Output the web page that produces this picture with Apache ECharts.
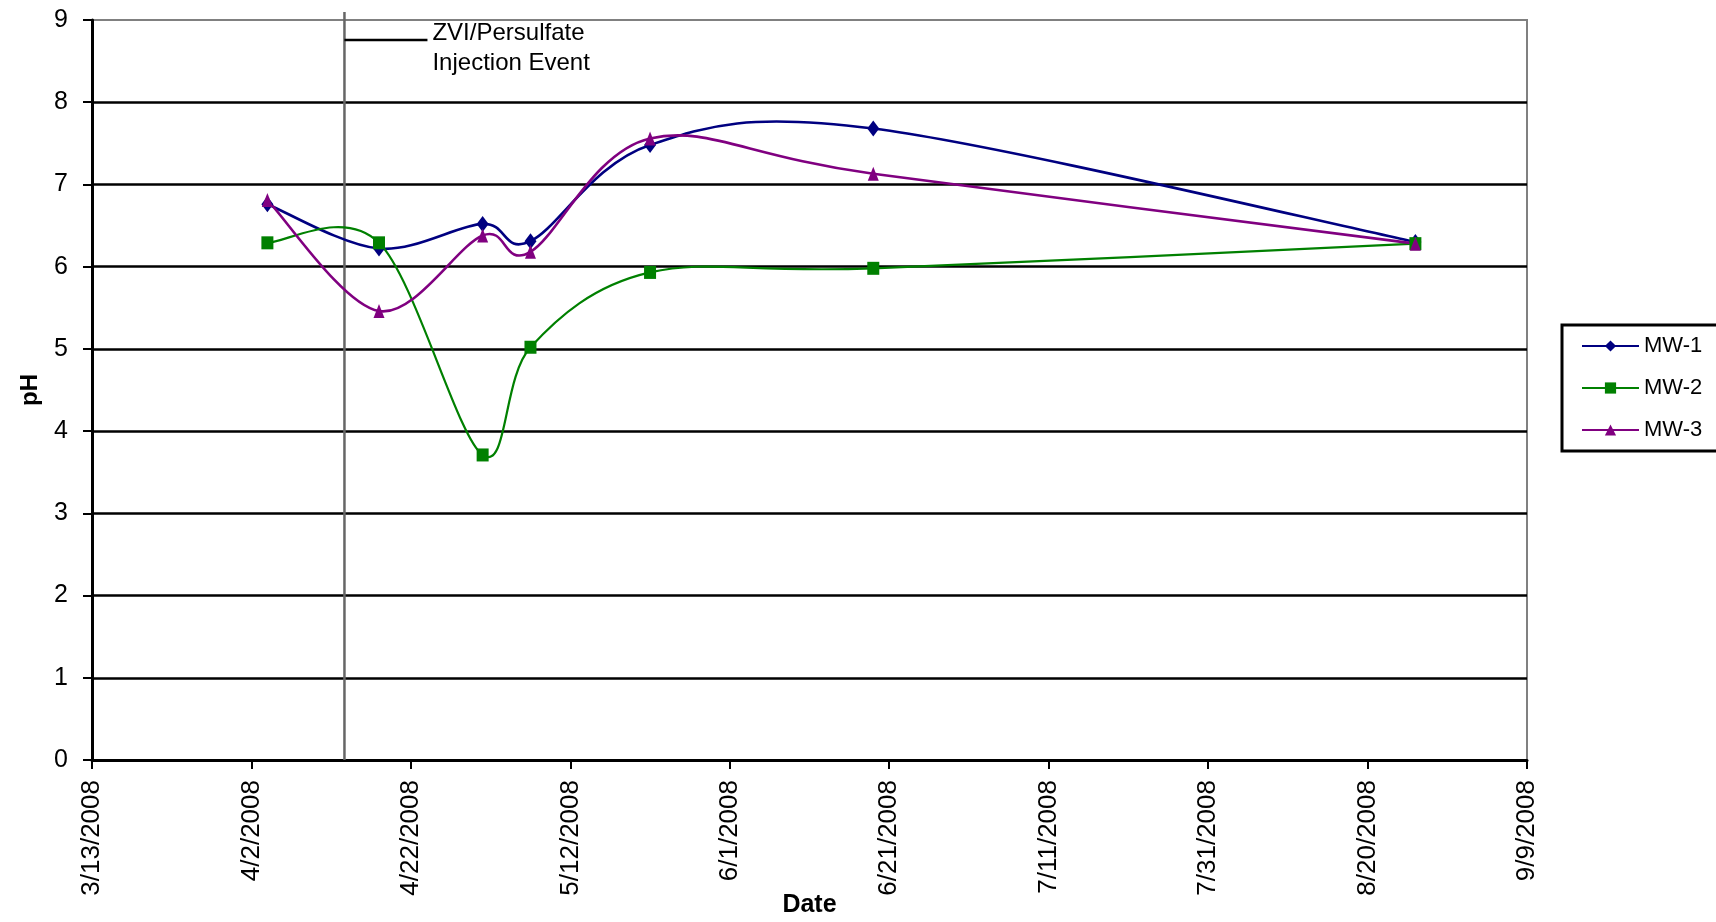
<!DOCTYPE html>
<html>
<head>
<meta charset="utf-8">
<title>pH</title>
<script src="https://cdn.jsdelivr.net/npm/echarts@6/dist/echarts.min.js"></script>
<style>
  html, body { margin: 0; padding: 0; background: #fff; }
  #chart { width: 1716px; height: 922px; }
</style>
</head>
<body>
<div id="chart"></div>
<script>
// Sampling dates and pH readings per monitoring well
const sampleDates = ['2008-04-04', '2008-04-18', '2008-05-01', '2008-05-07', '2008-05-22', '2008-06-19', '2008-08-26'];
const mw1 = [6.76, 6.22, 6.52, 6.31, 7.48, 7.68, 6.30];
const mw2 = [6.29, 6.29, 3.71, 5.02, 5.93, 5.98, 6.28];
const mw3 = [6.81, 5.46, 6.38, 6.18, 7.56, 7.13, 6.28];
const seriesNames = ['MW-1', 'MW-2', 'MW-3'];

// Date axis: 3/13/2008 to 9/9/2008, labelled every 20 days
const axisStart = '2008-03-13';
const axisSpanDays = 180;
const tickDays = 20;
const injectionTime = '2008-04-13T16:00:00Z';
const injectionLabel = ['ZVI/Persulfate', 'Injection Event'];

const DAY = 86400000;
const startMs = Date.parse(axisStart + 'T00:00:00Z');
function dayOf(s) {
  const t = s.length > 10 ? Date.parse(s) : Date.parse(s + 'T00:00:00Z');
  return (t - startMs) / DAY;
}
function dateLabel(d) {
  const dt = new Date(startMs + d * DAY);
  return (dt.getUTCMonth() + 1) + '/' + dt.getUTCDate() + '/' + dt.getUTCFullYear();
}
function pairs(vals) {
  return sampleDates.map((s, i) => [dayOf(s), vals[i]]);
}

const FONT = '"Liberation Sans", Arial, sans-serif';
const chart = echarts.init(document.getElementById('chart'), null, { renderer: 'canvas' });

// Markers (and legend entry) for one well
function markerSeries(name, vals, color, symbol, size, width) {
  return {
    name: name,
    type: 'line',
    data: pairs(vals),
    symbol: symbol,
    symbolSize: size,
    showSymbol: true,
    itemStyle: { color: color },
    lineStyle: { color: color, width: width, opacity: 0 },
    emphasis: { disabled: true },
    z: 4
  };
}

// Smoothed trend curve: cardinal (Catmull-Rom) Bezier segments between samples
function curveSeries(vals, color, width) {
  const pts = pairs(vals);
  return {
    type: 'custom',
    data: pts,
    encode: { x: 0, y: 1 },
    z: 3,
    silent: true,
    clip: true,
    renderItem: function (params, api) {
      const i = params.dataIndex;
      const n = pts.length;
      if (i >= n - 1) return null;
      const p0 = api.coord(pts[Math.max(i - 1, 0)]);
      const p1 = api.coord(pts[i]);
      const p2 = api.coord(pts[i + 1]);
      const p3 = api.coord(pts[Math.min(i + 2, n - 1)]);
      return {
        type: 'bezierCurve',
        shape: {
          x1: p1[0], y1: p1[1],
          cpx1: p1[0] + (p2[0] - p0[0]) / 6, cpy1: p1[1] + (p2[1] - p0[1]) / 6,
          cpx2: p2[0] - (p3[0] - p1[0]) / 6, cpy2: p2[1] - (p3[1] - p1[1]) / 6,
          x2: p2[0], y2: p2[1]
        },
        style: { stroke: color, lineWidth: width, fill: null }
      };
    }
  };
}

const colors = ['#000080', '#008000', '#800080'];

chart.setOption({
  animation: false,
  backgroundColor: '#fff',
  textStyle: { fontFamily: FONT, color: '#000' },
  grid: {
    left: 92, right: 189, top: 20, bottom: 162,
    containLabel: false,
    outerBoundsMode: 'none',
    show: true, borderColor: '#808080', borderWidth: 2, backgroundColor: 'transparent'
  },
  legend: {
    orient: 'vertical',
    left: 1562, top: 325,
    data: seriesNames,
    itemWidth: 57, itemHeight: 14, itemGap: 20,
    padding: [10, 22, 10, 19],
    borderColor: '#000', borderWidth: 3,
    lineStyle: { opacity: 1 },
    textStyle: { fontSize: 22, color: '#000', fontFamily: FONT, lineHeight: 22 },
    selectedMode: false
  },
  xAxis: {
    type: 'value',
    min: 0, max: axisSpanDays, interval: tickDays,
    name: 'Date', nameLocation: 'middle', nameGap: 133, nameMoveOverlap: false,
    nameTextStyle: { fontSize: 25, fontWeight: 'bold', color: '#000', fontFamily: FONT },
    axisLine: { show: true, onZero: false, lineStyle: { color: '#000', width: 3 } },
    axisTick: { show: true, inside: false, length: 9, lineStyle: { color: '#000', width: 2 } },
    axisLabel: {
      rotate: 90, margin: 20, fontSize: 26, color: '#000', fontFamily: FONT,
      showMinLabel: true, showMaxLabel: true, interval: 0,
      formatter: v => dateLabel(v)
    },
    splitLine: { show: false }
  },
  yAxis: {
    type: 'value',
    min: 0, max: 9, interval: 1,
    name: 'pH', nameLocation: 'middle', nameGap: 50, nameRotate: 90,
    nameTextStyle: { fontSize: 24, fontWeight: 'bold', color: '#000', fontFamily: FONT },
    axisLine: { show: true, lineStyle: { color: '#000', width: 3 } },
    axisTick: { show: true, inside: false, length: 9, lineStyle: { color: '#000', width: 2 } },
    axisLabel: { margin: 24, fontSize: 25, color: '#000', fontFamily: FONT },
    splitLine: { show: true, showMaxLine: false, lineStyle: { color: '#000', width: 2.6 } }
  },
  series: [
    curveSeries(mw1, colors[0], 2.6),
    curveSeries(mw2, colors[1], 2.2),
    curveSeries(mw3, colors[2], 2.6),
    markerSeries(seriesNames[0], mw1, colors[0], 'diamond', [12, 16], 2.6),
    markerSeries(seriesNames[1], mw2, colors[1], 'rect', [12, 13], 2.2),
    markerSeries(seriesNames[2], mw3, colors[2], 'triangle', [11, 14], 2.6)
  ]
});

// Injection event marker, placed through the axis scales
const ex = chart.convertToPixel({ xAxisIndex: 0 }, dayOf(injectionTime));
const yTop = chart.convertToPixel({ yAxisIndex: 0 }, 9);
const yBot = chart.convertToPixel({ yAxisIndex: 0 }, 0);
const leadY = yTop + 20;
chart.setOption({
  graphic: [
    {
      type: 'line', z: 2,
      shape: { x1: ex, y1: yTop - 8, x2: ex, y2: yBot },
      style: { stroke: '#666', lineWidth: 2.5 }
    },
    {
      type: 'line', z: 2,
      shape: { x1: ex, y1: leadY, x2: ex + 83, y2: leadY },
      style: { stroke: '#000', lineWidth: 2.5 }
    },
    {
      type: 'text', z: 5,
      x: ex + 88, y: yTop + 28,
      style: {
        text: injectionLabel.join('\n'),
        fontSize: 24, lineHeight: 30, fill: '#000', fontFamily: FONT,
        verticalAlign: 'middle', align: 'left'
      }
    }
  ]
});
</script>
</body>
</html>
